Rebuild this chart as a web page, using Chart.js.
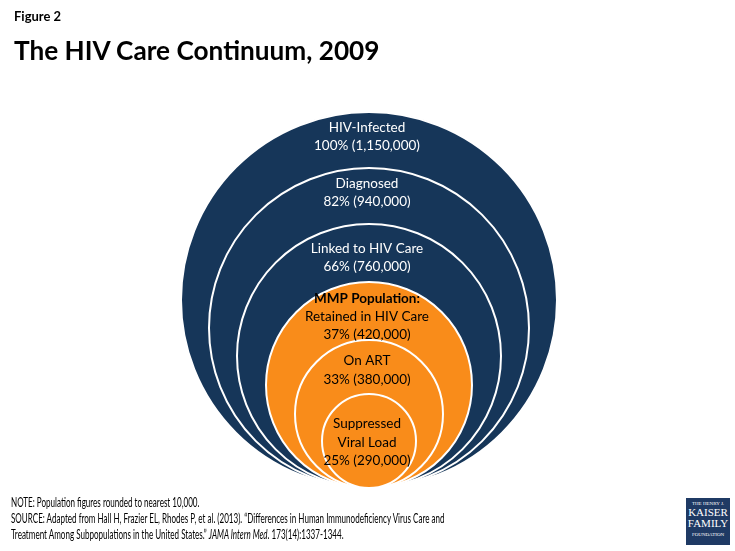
<!DOCTYPE html>
<html><head><meta charset="utf-8">
<script src="https://cdn.jsdelivr.net/npm/chart.js@4.4.0/dist/chart.umd.min.js"></script>
<style>
html,body{margin:0;padding:0;background:#fff;}
body{width:735px;height:551px;position:relative;overflow:hidden;font-family:Lato,"Open Sans",sans-serif;}
#c{position:absolute;left:0;top:0;}
.fig{position:absolute;left:14px;top:8px;font-weight:bold;font-size:13px;color:#000;}
.title{position:absolute;left:14px;top:34px;font-weight:bold;font-size:26.2px;color:#000;}
.notes{position:absolute;left:11px;top:495px;font-size:12.5px;line-height:16px;color:#000;white-space:nowrap;transform:scaleX(0.645);transform-origin:0 0;}
.logo{position:absolute;left:686px;top:498px;width:44px;height:47px;background:#1f3a64;color:#fff;font-family:"Liberation Serif",serif;text-align:center;}
.logo .s{font-size:5px;line-height:7px;margin-top:2px;}
.logo .b{font-size:11px;line-height:11px;}
</style></head>
<body>
<canvas id="c" width="735" height="551"></canvas>
<div class="fig">Figure 2</div>
<div class="title">The HIV Care Continuum, 2009</div>
<div class="notes">NOTE: Population figures rounded to nearest 10,000.<br>SOURCE: Adapted from Hall H, Frazier EL, Rhodes P, et al. (2013). “Differences in Human Immunodeficiency Virus Care and<br>Treatment Among Subpopulations in the United States.” <i>JAMA Intern Med</i>. 173(14):1337-1344.</div>
<div class="logo"><div class="s">THE HENRY J.</div><div class="b">KAISER</div><div class="b">FAMILY</div><div class="s">FOUNDATION</div></div>
<script>
// Data
const stages = ["HIV-Infected", "Diagnosed", "Linked to HIV Care", "Retained in HIV Care", "On ART", "Suppressed Viral Load"];
const percents = [100, 82, 66, 37, 33, 25];
const counts = ["1,150,000", "940,000", "760,000", "420,000", "380,000", "290,000"];
// schematic ring sizes (radius, in diagram units)
const ringSize = [188, 160, 132, 103, 74, 47];

// styles
const navy = "#163659", orange = "#F98C1A";
const fills = [navy, navy, navy, orange, orange, orange];
const textColors = ["#fff", "#fff", "#fff", "#000", "#000", "#000"];
const labelLines = [
  [stages[0]],
  [stages[1]],
  [stages[2]],
  ["MMP Population:", stages[3]],
  [stages[4]],
  ["Suppressed", "Viral Load"]
];
const labelOffset = [16, 16, 25, 17, 21, 30];
const lineGap = [18, 18, 18, 18, 18.5, 18.5];
const base = 12;

const points = ringSize.map((r) => ({x: 0, y: base + r}));

const labelPlugin = {
  id: 'ringLabels',
  afterDatasetsDraw(chart) {
    const ctx = chart.ctx;
    const meta = chart.getDatasetMeta(0);
    ctx.save();
    ctx.textAlign = 'center';
    ctx.textBaseline = 'middle';
    meta.data.forEach((el, i) => {
      const r = el.options.radius;
      let y = el.y - r + labelOffset[i];
      const lines = labelLines[i].slice();
      lines.push(percents[i] + "% (" + counts[i] + ")");
      lines.forEach((t, k) => {
        ctx.fillStyle = textColors[i];
        ctx.font = (t === "MMP Population:" ? "bold " : "") + "13.5px Lato, 'Open Sans', sans-serif";
        ctx.fillText(t, el.x - 2, y + k * lineGap[i]);
      });
    });
    ctx.restore();
  }
};

const radiusFromScale = (ctx) => {
  const s = ctx.chart.scales.x;
  return Math.abs(s.getPixelForValue(ringSize[ctx.dataIndex]) - s.getPixelForValue(0));
};

new Chart(document.getElementById('c'), {
  type: 'scatter',
  data: {
    datasets: [{
      data: points,
      backgroundColor: fills,
      borderColor: '#ffffff',
      borderWidth: 2,
      clip: false,
      pointRadius: radiusFromScale,
      pointHoverRadius: radiusFromScale
    }]
  },
  options: {
    responsive: false,
    animation: false,
    events: [],
    layout: {padding: {left: 169, right: 166, top: 100, bottom: 51}},
    plugins: {legend: {display: false}, tooltip: {enabled: false}, title: {display: false}},
    scales: {
      x: {type: 'linear', min: -200, max: 200, display: false},
      y: {type: 'linear', min: 0, max: 400, display: false}
    }
  },
  plugins: [labelPlugin]
});
</script>
</body></html>
